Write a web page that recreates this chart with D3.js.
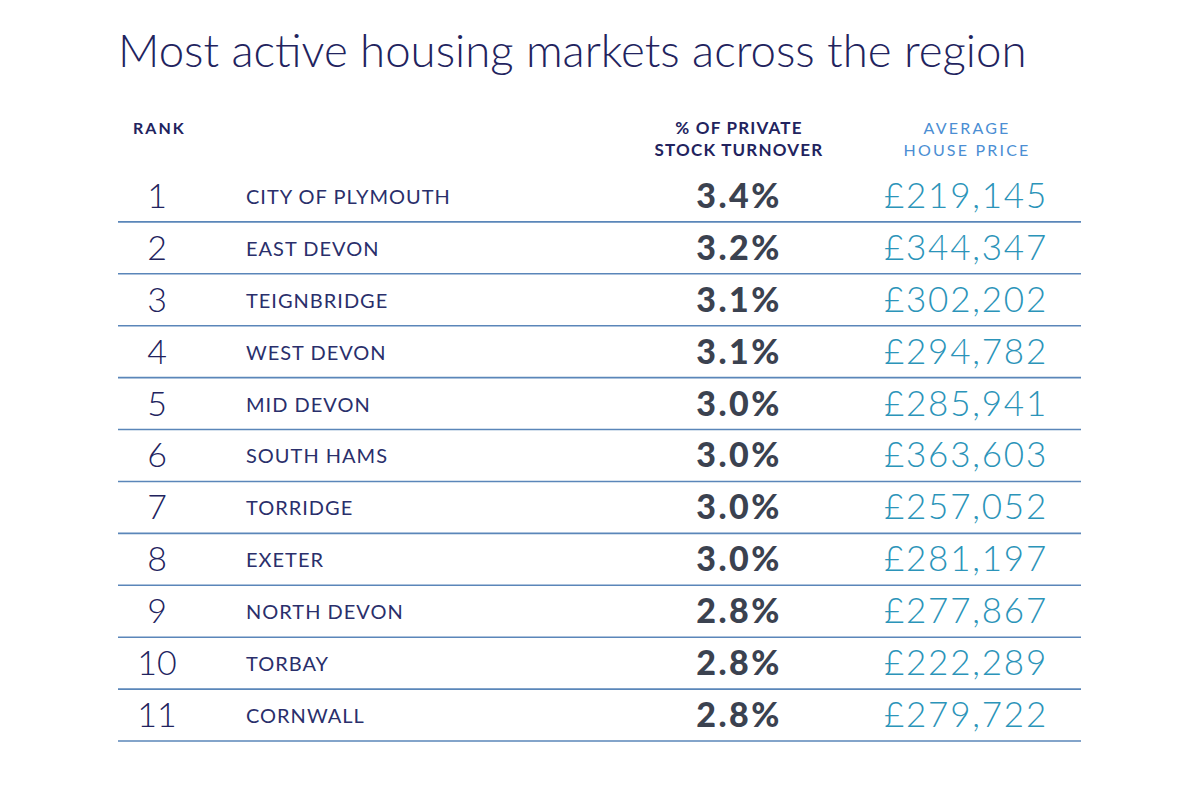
<!DOCTYPE html>
<html>
<head>
<meta charset="utf-8">
<script src="https://cdn.jsdelivr.net/npm/d3@7"></script>
<style>
  body { margin: 0; background: #fff; }
  svg text { font-family: "Lato", "Open Sans", sans-serif; }
</style>
</head>
<body>
<div id="chart"></div>
<script>
var ranks = [1, 2, 3, 4, 5, 6, 7, 8, 9, 10, 11];
var areas = ["CITY OF PLYMOUTH", "EAST DEVON", "TEIGNBRIDGE", "WEST DEVON", "MID DEVON",
             "SOUTH HAMS", "TORRIDGE", "EXETER", "NORTH DEVON", "TORBAY", "CORNWALL"];
var turnover = [3.4, 3.2, 3.1, 3.1, 3.0, 3.0, 3.0, 3.0, 2.8, 2.8, 2.8];
var prices = [219145, 344347, 302202, 294782, 285941, 363603, 257052, 281197, 277867, 222289, 279722];
var headers = {
  rank: ["RANK"],
  turnover: ["% OF PRIVATE", "STOCK TURNOVER"],
  price: ["AVERAGE", "HOUSE PRICE"]
};

var width = 1200, height = 800;

var svg = d3.select("#chart")
            .append("svg")
            .attr("width", width)
            .attr("height", height);

// fit the title to the width it has in the picture
var title = svg.append("text")
   .attr("x", 118)
   .attr("y", 67)
   .attr("fill", "#22235e")
   .attr("font-size", "40px")
   .attr("font-weight", 300)
   .text("Most active housing markets across the region");
var tw = title.node().getComputedTextLength();
title.attr("font-size", (40 * 909 / tw).toFixed(1) + "px");

// rows
var y = d3.scaleBand()
          .domain(ranks)
          .range([170, 741]);

var colX = { rank: 157, name: 246, turnover: 739, price: 966 };

// column headers
svg.append("text")
   .attr("x", 133).attr("y", 134)
   .attr("fill", "#22235e")
   .attr("font-size", "16px")
   .attr("font-weight", 700)
   .attr("letter-spacing", "2px")
   .text(headers.rank[0]);

svg.selectAll(".hdr-turn")
   .data(headers.turnover)
   .enter()
   .append("text")
   .attr("class", "hdr-turn")
   .attr("x", colX.turnover)
   .attr("y", function(d, i) { return 134 + i * 22; })
   .attr("text-anchor", "middle")
   .attr("fill", "#22235e")
   .attr("font-size", "17px")
   .attr("font-weight", 700)
   .attr("letter-spacing", "1.2px")
   .text(function(d) { return d; });

svg.selectAll(".hdr-price")
   .data(headers.price)
   .enter()
   .append("text")
   .attr("class", "hdr-price")
   .attr("x", 967)
   .attr("y", function(d, i) { return 134 + i * 22; })
   .attr("text-anchor", "middle")
   .attr("fill", "#4b8ed3")
   .attr("font-size", "16px")
   .attr("letter-spacing", "2.2px")
   .text(function(d) { return d; });

var rows = svg.selectAll(".row")
   .data(ranks)
   .enter()
   .append("g")
   .attr("class", "row")
   .attr("transform", function(d) { return "translate(0," + y(d) + ")"; });

var bw = y.bandwidth();

rows.append("line")
    .attr("x1", 118).attr("x2", 1081)
    .attr("y1", bw).attr("y2", bw)
    .attr("stroke", "#5a86b9")
    .attr("stroke-width", 1.6);

rows.append("text")
    .attr("x", colX.rank)
    .attr("y", bw / 2 + 12)
    .attr("text-anchor", "middle")
    .attr("fill", "#22235e")
    .attr("font-size", "34px")
    .attr("font-weight", 300)
    .text(function(d) { return d; });

rows.append("text")
    .attr("x", colX.name)
    .attr("y", bw / 2 + 8)
    .attr("fill", "#2a2f6b")
    .attr("font-size", "20px")
    .attr("letter-spacing", "1px")
    .text(function(d, i) { return areas[i]; });

rows.append("text")
    .attr("x", colX.turnover)
    .attr("y", bw / 2 + 12)
    .attr("text-anchor", "middle")
    .attr("fill", "#3b4250")
    .attr("font-size", "34px")
    .attr("font-weight", 900)
    .attr("letter-spacing", "2.5px")
    .text(function(d, i) { return d3.format(".1f")(turnover[i]) + "%"; });

rows.append("text")
    .attr("x", colX.price)
    .attr("y", bw / 2 + 12)
    .attr("text-anchor", "middle")
    .attr("fill", "#2b94b9")
    .attr("font-size", "35px")
    .attr("font-weight", 300)
    .attr("letter-spacing", "1.8px")
    .text(function(d, i) { return "£" + d3.format(",")(prices[i]); });
</script>
</body>
</html>
